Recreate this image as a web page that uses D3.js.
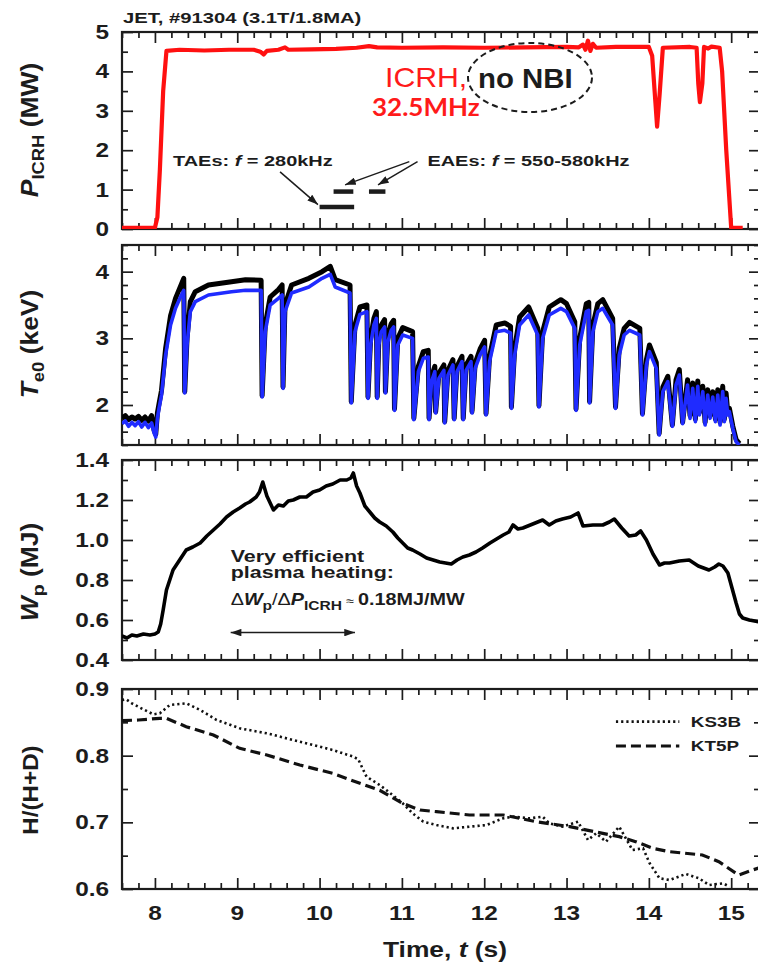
<!DOCTYPE html>
<html>
<head>
<meta charset="utf-8">
<script src="https://cdn.jsdelivr.net/npm/d3@7"></script>
<style>
  body { margin: 0; background: #fff; }
  text { font-family: "Liberation Sans", Arial, Helvetica, sans-serif; font-weight: bold; fill: #1c1c1c; }
</style>
</head>
<body>
<div id="chart"></div>
<script>
// ---- data ----
const timeTicks = [8, 9, 10, 11, 12, 13, 14, 15];
const pTicks = [0, 1, 2, 3, 4, 5];
const teTicks = [2, 3, 4];
const wpTicks = [0.4, 0.6, 0.8, 1.0, 1.2, 1.4];
const hTicks = [0.6, 0.7, 0.8, 0.9];

// ICRH power [t (s), MW]
const pIcrh = [[7.6,0.03],[8.0,0.03],[8.03,0.3],[8.06,1.5],[8.1,3.5],[8.14,4.52],[8.3,4.55],[8.6,4.53],[8.9,4.55],
  [9.2,4.55],[9.28,4.5],[9.32,4.43],[9.36,4.52],[9.5,4.55],[9.58,4.61],[9.62,4.55],[9.9,4.56],[10.2,4.57],
  [10.45,4.6],[10.6,4.64],[10.7,4.61],[11.0,4.6],[11.5,4.61],[12.0,4.6],[12.5,4.61],[13.0,4.62],[13.15,4.61],
  [13.2,4.68],[13.23,4.55],[13.26,4.78],[13.29,4.52],[13.32,4.7],[13.36,4.6],[13.6,4.62],[14.0,4.62],
  [14.04,4.4],[14.08,3.2],[14.1,2.6],[14.13,3.4],[14.17,4.6],[14.5,4.62],[14.58,4.6],[14.6,3.7],[14.62,3.22],
  [14.65,3.7],[14.67,4.62],[14.72,4.58],[14.76,4.63],[14.86,4.6],[14.89,4.0],[14.94,2.0],[15.0,0.03],[15.14,0.03]];

// mode-activity bars [t0, t1, MW]
const taeBars = [[10.0, 10.42, 0.56]];
const eaeBars = [[10.17, 10.41, 0.95], [10.6, 10.8, 0.95]];

// central Te [t (s), blue trace keV, black trace keV]
const teTrace = [
  [7.60,1.72,1.80],[7.64,1.76,1.84],[7.68,1.68,1.78],[7.72,1.74,1.82],[7.76,1.69,1.79],[7.80,1.75,1.83],
  [7.84,1.67,1.77],[7.88,1.74,1.82],[7.92,1.66,1.76],[7.96,1.73,1.84],[7.99,1.58,1.62],[8.01,1.52,1.56],
  [8.03,1.80,1.88],[8.05,1.95,2.02],[8.08,2.15,2.22],[8.13,2.75,2.85],[8.19,3.20,3.34],[8.25,3.45,3.60],
  [8.31,3.62,3.78],[8.35,3.72,3.90],[8.362,2.18,2.20],
  [8.39,2.90,3.00],[8.43,3.40,3.55],[8.49,3.55,3.70],[8.65,3.65,3.80],[8.93,3.70,3.85],[9.10,3.72,3.88],
  [9.29,3.72,3.87],[9.302,2.12,2.14],
  [9.34,3.10,3.20],[9.40,3.50,3.62],[9.50,3.60,3.73],[9.545,3.65,3.80],[9.556,2.25,2.27],
  [9.58,3.40,3.50],[9.66,3.68,3.80],[9.87,3.77,3.90],[10.03,3.90,4.00],[10.13,3.96,4.08],[10.19,3.77,3.88],
  [10.37,3.68,3.80],[10.385,2.03,2.05],
  [10.43,3.10,3.20],[10.49,3.36,3.47],[10.575,3.40,3.50],[10.588,2.10,2.12],
  [10.62,2.90,3.00],[10.66,3.20,3.30],[10.69,3.30,3.40],[10.70,2.10,2.12],
  [10.72,2.90,3.00],[10.75,3.10,3.20],[10.79,3.17,3.28],[10.80,2.18,2.20],
  [10.83,2.95,3.05],[10.87,3.12,3.22],[10.90,3.17,3.27],[10.91,1.92,1.94],
  [10.95,2.90,3.00],[11.01,3.05,3.16],[11.13,3.00,3.10],[11.145,1.78,1.80],
  [11.20,2.50,2.58],[11.26,2.70,2.80],[11.32,2.72,2.82],[11.33,1.78,1.80],
  [11.36,2.35,2.42],[11.40,2.50,2.58],[11.41,1.88,1.90],
  [11.45,2.40,2.48],[11.51,2.52,2.60],[11.52,1.73,1.75],
  [11.56,2.45,2.52],[11.62,2.60,2.68],[11.635,1.78,1.80],
  [11.67,2.50,2.58],[11.73,2.65,2.73],[11.745,1.78,1.80],
  [11.78,2.52,2.60],[11.84,2.65,2.73],[11.852,1.88,1.90],
  [11.89,2.55,2.63],[11.95,2.75,2.84],[12.005,2.87,2.97],[12.022,1.85,1.87],
  [12.065,2.65,2.73],[12.146,3.10,3.20],[12.25,3.12,3.23],[12.32,3.08,3.18],[12.33,1.95,1.97],
  [12.37,2.75,2.85],[12.43,3.20,3.32],[12.54,3.35,3.47],[12.65,3.05,3.15],[12.665,1.97,1.99],
  [12.71,3.00,3.10],[12.79,3.35,3.47],[12.93,3.45,3.58],[13.00,3.40,3.52],[13.10,3.15,3.25],[13.115,1.92,1.94],
  [13.16,2.90,3.00],[13.24,3.40,3.52],[13.27,3.42,3.54],[13.28,2.03,2.05],
  [13.32,3.10,3.20],[13.38,3.40,3.52],[13.44,3.45,3.58],[13.56,3.20,3.30],[13.595,1.95,1.97],
  [13.64,2.75,2.85],[13.70,3.05,3.15],[13.765,3.12,3.24],[13.89,3.05,3.15],[13.922,1.85,1.87],
  [13.97,2.60,2.68],[14.007,2.80,2.90],[14.09,2.55,2.64],[14.125,1.55,1.57],
  [14.17,2.20,2.27],[14.23,2.35,2.43],[14.285,1.68,1.70],
  [14.33,2.30,2.38],[14.37,2.45,2.53],[14.41,1.72,1.74],
  [14.47,2.30,2.38],[14.50,1.80,1.84],[14.533,2.25,2.33],[14.565,1.75,1.79],[14.594,2.28,2.36],
  [14.614,1.85,1.89],[14.655,2.20,2.28],[14.683,1.70,1.74],[14.715,2.15,2.23],[14.744,1.80,1.84],
  [14.776,2.12,2.20],[14.808,1.75,1.79],[14.837,2.15,2.23],[14.865,1.70,1.74],[14.897,2.20,2.28],
  [14.917,1.75,1.79],[14.938,2.10,2.18],[14.958,1.85,1.89],[14.978,1.90,1.95],
  [15.02,1.65,1.68],[15.06,1.45,1.48],[15.10,1.40,1.42]];

// plasma energy [t (s), MJ]
const wpTrace = [[7.6,0.52],[7.66,0.51],[7.72,0.525],[7.78,0.52],[7.86,0.53],[7.94,0.525],[8.0,0.53],[8.04,0.54],
  [8.07,0.58],[8.1,0.65],[8.14,0.75],[8.18,0.8],[8.22,0.85],[8.3,0.9],[8.38,0.95],[8.46,0.965],[8.55,0.985],
  [8.63,1.02],[8.71,1.05],[8.79,1.08],[8.87,1.115],[8.95,1.14],[9.03,1.16],[9.1,1.18],[9.15,1.19],[9.23,1.215],
  [9.27,1.24],[9.31,1.29],[9.36,1.22],[9.44,1.15],[9.5,1.175],[9.56,1.17],[9.62,1.195],[9.68,1.2],[9.76,1.215],
  [9.84,1.215],[9.92,1.24],[10.0,1.25],[10.08,1.27],[10.16,1.28],[10.25,1.3],[10.33,1.3],[10.38,1.31],
  [10.41,1.335],[10.45,1.27],[10.49,1.235],[10.55,1.17],[10.61,1.14],[10.67,1.11],[10.73,1.09],[10.81,1.07],
  [10.89,1.04],[10.95,1.01],[11.01,0.985],[11.07,0.96],[11.13,0.95],[11.22,0.93],[11.3,0.91],[11.38,0.9],
  [11.46,0.89],[11.53,0.885],[11.6,0.88],[11.67,0.9],[11.74,0.915],[11.82,0.925],[11.9,0.94],[11.98,0.96],
  [12.07,0.985],[12.15,1.005],[12.23,1.025],[12.3,1.04],[12.35,1.075],[12.41,1.055],[12.47,1.06],[12.59,1.08],
  [12.71,1.1],[12.79,1.075],[12.87,1.095],[12.95,1.105],[13.05,1.115],[13.14,1.135],[13.2,1.07],[13.32,1.075],
  [13.44,1.075],[13.52,1.09],[13.58,1.105],[13.67,1.06],[13.76,1.02],[13.84,1.025],[13.9,1.045],[13.97,1.0],
  [14.05,0.93],[14.13,0.875],[14.19,0.885],[14.25,0.885],[14.37,0.895],[14.49,0.9],[14.6,0.87],[14.73,0.85],
  [14.8,0.865],[14.85,0.88],[14.9,0.87],[14.96,0.835],[15.01,0.76],[15.06,0.685],[15.1,0.63],[15.14,0.61],
  [15.22,0.6],[15.35,0.59]];

// H/(H+D) [t (s), ratio]
const ks3b = [[7.6,0.8835],[7.65,0.8845],[7.72,0.8785],[7.85,0.87],[7.98,0.862],[8.06,0.8635],[8.18,0.876],
  [8.38,0.8785],[8.55,0.8685],[8.75,0.8535],[9.03,0.841],[9.36,0.8335],[9.76,0.821],[10.16,0.8085],
  [10.41,0.7985],[10.47,0.7945],[10.57,0.7685],[10.73,0.756],[10.81,0.7485],[11.01,0.7285],[11.13,0.7135],
  [11.26,0.701],[11.42,0.696],[11.62,0.691],[11.82,0.6935],[12.03,0.696],[12.23,0.706],[12.35,0.7085],
  [12.55,0.706],[12.71,0.7085],[12.79,0.6985],[12.95,0.6935],[13.14,0.701],[13.26,0.6735],[13.36,0.6835],
  [13.48,0.671],[13.64,0.6935],[13.8,0.6585],[13.93,0.661],[14.01,0.6385],[14.13,0.616],[14.25,0.6135],
  [14.45,0.6225],[14.61,0.616],[14.73,0.606],[14.9,0.6085],[14.98,0.6035]];
const kt5p = [[7.6,0.8525],[7.8,0.8535],[8.06,0.856],[8.14,0.856],[8.38,0.8435],[8.71,0.831],[9.03,0.811],
  [9.36,0.801],[9.76,0.786],[10.16,0.7735],[10.49,0.7585],[10.73,0.748],[11.01,0.7285],[11.22,0.7185],
  [11.42,0.716],[11.82,0.711],[12.23,0.711],[12.43,0.706],[12.63,0.701],[13.04,0.6935],[13.44,0.6835],
  [13.64,0.6785],[13.84,0.671],[14.05,0.661],[14.25,0.656],[14.65,0.651],[14.85,0.641],[15.09,0.621],
  [15.26,0.6285],[15.35,0.632]];

const legendNames = ["KS3B", "KT5P"];

// ---- layout ----
const svg = d3.select("#chart").append("svg")
  .attr("width", 758).attr("height", 964);

const x = d3.scaleLinear().domain([7.6, 15.35]).range([122, 760]);
const ink = "#1c1c1c";

const defs = svg.append("defs");
defs.append("marker")
  .attr("id", "arrow")
  .attr("viewBox", "0 0 10 7")
  .attr("refX", 10).attr("refY", 3.5)
  .attr("markerWidth", 11).attr("markerHeight", 7.5)
  .attr("markerUnits", "userSpaceOnUse")
  .attr("orient", "auto-start-reverse")
  .append("path").attr("d", "M0,0 L10,3.5 L0,7 z").attr("fill", ink);

// text with the wide look of the original figure
function label(parent, px, py, str, size, sx, anchor, rotate) {
  const rot = rotate ? " rotate(-90)" : "";
  return parent.append("text")
    .attr("transform", `translate(${px},${py})${rot} scale(${sx},1)`)
    .attr("text-anchor", anchor || "start")
    .style("font-size", size + "px")
    .text(str);
}

function panel(id, domain, top, bottom, majors, minorStep, fmt) {
  const y = d3.scaleLinear().domain(domain).range([bottom, top]);
  const g = svg.append("g").attr("id", id);

  defs.append("clipPath").attr("id", "clip-" + id)
    .append("rect").attr("x", 122).attr("y", top).attr("width", 638).attr("height", bottom - top);

  const minorX = d3.range(7.6, 15.36, 0.2).map(v => +v.toFixed(1)).filter(v => !timeTicks.includes(v));
  const minorY = d3.range(domain[0], domain[1] + 1e-9, minorStep).map(v => +v.toFixed(2))
    .filter(v => !majors.some(m => Math.abs(m - v) < 1e-6));

  const axes = [
    [d3.axisBottom(x).tickValues(timeTicks).tickSize(-11), `translate(0,${bottom})`],
    [d3.axisBottom(x).tickValues(minorX).tickSize(-6), `translate(0,${bottom})`],
    [d3.axisTop(x).tickValues(timeTicks).tickSize(-11), `translate(0,${top})`],
    [d3.axisTop(x).tickValues(minorX).tickSize(-6), `translate(0,${top})`],
    [d3.axisLeft(y).tickValues(majors).tickSize(-11), "translate(122,0)"],
    [d3.axisLeft(y).tickValues(minorY).tickSize(-6), "translate(122,0)"],
    [d3.axisRight(y).tickValues(majors).tickSize(-11), "translate(760,0)"],
    [d3.axisRight(y).tickValues(minorY).tickSize(-6), "translate(760,0)"]
  ];
  axes.forEach(([ax, tr]) => {
    const a = g.append("g").attr("transform", tr).call(ax.tickFormat(""));
    a.select(".domain").remove();
    a.selectAll("line").attr("stroke", ink).attr("stroke-width", 1.7);
  });

  g.append("rect")
    .attr("x", 122).attr("y", top).attr("width", 638).attr("height", bottom - top)
    .attr("fill", "none").attr("stroke", ink).attr("stroke-width", 2.2);

  majors.forEach(v => label(g, 109, y(v) + 7, fmt(v), 19.5, 1.25, "end"));

  const plot = g.append("g").attr("clip-path", `url(#clip-${id})`);
  return { g, y, plot };
}

// title
label(svg, 123, 23, "JET, #91304 (3.1T/1.8MA)", 15, 1.35);

// ---- panel 1: ICRH power ----
const p1 = panel("p1", [0, 5], 32, 229, pTicks, 0.5, d3.format("d"));
p1.plot.append("path").datum(pIcrh)
  .attr("d", d3.line().x(d => x(d[0])).y(d => p1.y(d[1])))
  .attr("fill", "none").attr("stroke", "#ff1010").attr("stroke-width", 4.2)
  .attr("stroke-linejoin", "round");

p1.plot.selectAll(".bar").data(taeBars.concat(eaeBars)).enter().append("line")
  .attr("x1", d => x(d[0])).attr("x2", d => x(d[1]))
  .attr("y1", d => p1.y(d[2])).attr("y2", d => p1.y(d[2]))
  .attr("stroke", ink).attr("stroke-width", 4.5);

const p1Arrows = [[9.52, 1.45, 9.98, 0.62], [11.09, 1.71, 10.31, 1.12], [11.19, 1.71, 10.71, 1.12]];
p1Arrows.forEach(a => {
  p1.g.append("line")
    .attr("x1", x(a[0])).attr("y1", p1.y(a[1])).attr("x2", x(a[2])).attr("y2", p1.y(a[3]))
    .attr("stroke", ink).attr("stroke-width", 1.5).attr("marker-end", "url(#arrow)");
});

const tae = label(p1.g, x(8.22), p1.y(1.6), "", 15, 1.33);
tae.append("tspan").text("TAEs: ");
tae.append("tspan").style("font-style", "italic").text("f");
tae.append("tspan").text(" = 280kHz");
const eae = label(p1.g, x(11.31), p1.y(1.6), "", 15, 1.33);
eae.append("tspan").text("EAEs: ");
eae.append("tspan").style("font-style", "italic").text("f");
eae.append("tspan").text(" = 550-580kHz");

label(p1.g, 385, 87, "ICRH,", 28, 1.08).style("font-weight", "normal").style("fill", "#ff1a1a");
label(p1.g, 478, 88, "no NBI", 28, 1.05);
label(p1.g, 372, 116, "32.5MHz", 25, 1.04)
  .style("font-family", "Lato, 'Open Sans', sans-serif").style("fill", "#ff1a1a");
p1.g.append("ellipse").attr("cx", 530).attr("cy", 77.5).attr("rx", 62).attr("ry", 34.5)
  .attr("fill", "none").attr("stroke", ink).attr("stroke-width", 2).attr("stroke-dasharray", "6,4");

const t1 = label(svg, 38, 130, "", 23, 1.15, "middle", true);
t1.append("tspan").style("font-style", "italic").text("P");
t1.append("tspan").attr("dy", 6).style("font-size", "16px").text("ICRH");
t1.append("tspan").attr("dy", -6).text(" (MW)");

// ---- panel 2: central electron temperature ----
const p2 = panel("p2", [1.4, 4.4], 245, 445, teTicks, 0.2, d3.format("d"));
p2.plot.append("path").datum(teTrace)
  .attr("d", d3.line().x(d => x(d[0])).y(d => p2.y(d[2])))
  .attr("fill", "none").attr("stroke", "#000").attr("stroke-width", 5).attr("stroke-linejoin", "round");
p2.plot.append("path").datum(teTrace)
  .attr("d", d3.line().x(d => x(d[0])).y(d => p2.y(d[1])))
  .attr("fill", "none").attr("stroke", "#1f2bff").attr("stroke-width", 3.6).attr("stroke-linejoin", "round");

const t2 = label(svg, 38, 344, "", 23, 1.15, "middle", true);
t2.append("tspan").style("font-style", "italic").text("T");
t2.append("tspan").attr("dy", 6).style("font-size", "16px").text("e0");
t2.append("tspan").attr("dy", -6).text(" (keV)");

// ---- panel 3: plasma energy ----
const p3 = panel("p3", [0.4, 1.4], 460, 660, wpTicks, 0.1, d3.format(".1f"));
p3.plot.append("path").datum(wpTrace)
  .attr("d", d3.line().x(d => x(d[0])).y(d => p3.y(d[1])))
  .attr("fill", "none").attr("stroke", "#000").attr("stroke-width", 3.6).attr("stroke-linejoin", "round");

label(p3.g, x(8.92), p3.y(0.891), "Very efficient", 16.5, 1.3);
label(p3.g, x(8.92), p3.y(0.81), "plasma heating:", 16.5, 1.3);
const eff = label(p3.g, x(8.92), p3.y(0.675), "", 16.5, 1.2);
eff.append("tspan").style("font-weight", "normal").text("Δ");
eff.append("tspan").style("font-style", "italic").text("W");
eff.append("tspan").attr("dy", 5).style("font-size", "13px").text("p");
eff.append("tspan").attr("dy", -5).style("font-weight", "normal").text("/Δ");
eff.append("tspan").style("font-style", "italic").text("P");
eff.append("tspan").attr("dy", 5).style("font-size", "13px").text("ICRH");
eff.append("tspan").attr("dy", -5).style("font-weight", "normal").style("font-size", "12px").text(" ≈ ");
eff.append("tspan").text("0.18MJ/MW");

p3.g.append("line")
  .attr("x1", x(8.92)).attr("x2", x(10.43)).attr("y1", p3.y(0.537)).attr("y2", p3.y(0.537))
  .attr("stroke", ink).attr("stroke-width", 1.5)
  .attr("marker-start", "url(#arrow)").attr("marker-end", "url(#arrow)");

const t3 = label(svg, 38, 572, "", 23, 1.15, "middle", true);
t3.append("tspan").style("font-style", "italic").text("W");
t3.append("tspan").attr("dy", 6).style("font-size", "17px").text("p");
t3.append("tspan").attr("dy", -6).text(" (MJ)");

// ---- panel 4: isotope ratio ----
const p4 = panel("p4", [0.6, 0.9], 689, 889, hTicks, 0.05, d3.format(".1f"));
const styles = [
  { data: ks3b, dash: "2.2,3", width: 2.6 },
  { data: kt5p, dash: "10,5", width: 3.2 }
];
styles.forEach(s => {
  p4.plot.append("path").datum(s.data)
    .attr("d", d3.line().x(d => x(d[0])).y(d => p4.y(d[1])))
    .attr("fill", "none").attr("stroke", "#111").attr("stroke-width", s.width)
    .attr("stroke-dasharray", s.dash);
});

const legendY = [0.851, 0.8145];
legendNames.forEach((name, i) => {
  p4.g.append("line")
    .attr("x1", x(13.6)).attr("x2", x(14.37)).attr("y1", p4.y(legendY[i])).attr("y2", p4.y(legendY[i]))
    .attr("stroke", "#111").attr("stroke-width", styles[i].width).attr("stroke-dasharray", styles[i].dash);
  label(p4.g, x(14.51), p4.y(legendY[i]) + 5, name, 14.5, 1.3);
});

label(svg, 38, 790, "H/(H+D)", 22, 1.1, "middle", true);

// time axis labels
timeTicks.forEach(v => label(svg, x(v), 920, d3.format("d")(v), 19.5, 1.25, "middle"));
const xt = label(svg, 445, 957, "", 22, 1.2, "middle");
xt.append("tspan").text("Time, ");
xt.append("tspan").style("font-style", "italic").text("t");
xt.append("tspan").text(" (s)");
</script>
</body>
</html>
